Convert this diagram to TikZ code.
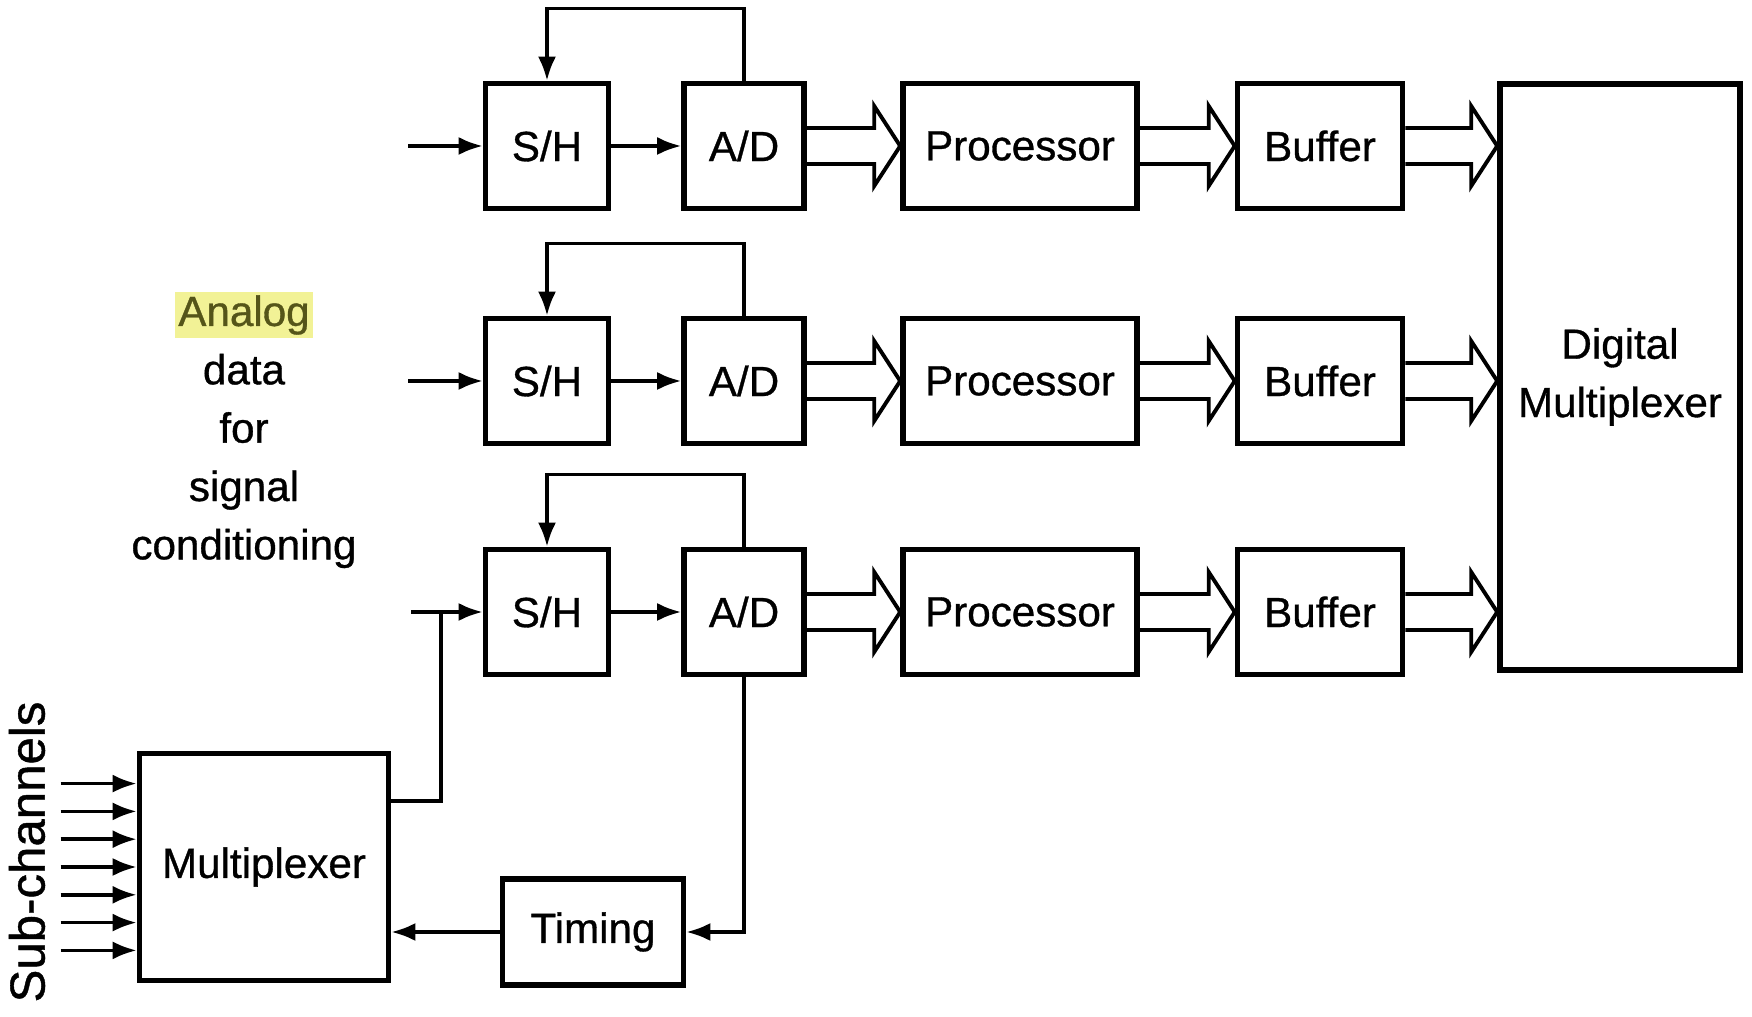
\documentclass[tikz,border=0pt]{standalone}
\usepackage{fontspec}
\setmainfont{Liberation Sans}[FakeBold=0.8]
\usetikzlibrary{arrows.meta,calc}
\definecolor{hlbg}{RGB}{242,242,150}
\definecolor{hltx}{RGB}{85,85,25}

\begin{document}
\begin{tikzpicture}[font=\fontsize{12}{16.6}\selectfont,
  blk/.style={draw,line width=1.6pt,minimum height=1.25cm,inner sep=2pt},
  arr/.style={line width=1pt,-{Latex[length=2.4mm,width=1.8mm]}},
  ln/.style={line width=1pt},
  bus/.style={line width=1.1pt,line join=miter}]
  \useasboundingbox (0,0) rectangle (17.52,-10.17);
  \node[blk,minimum width=1.23cm] (sh1) at (5.47,-1.46){S/H};
  \node[blk,minimum width=1.20cm] (ad1) at (7.44,-1.46){A/D};
  \node[blk,minimum width=2.34cm] (pr1) at (10.20,-1.46){Processor};
  \node[blk,minimum width=1.65cm] (bf1) at (13.20,-1.46){Buffer};
  \node[blk,minimum width=1.23cm] (sh2) at (5.47,-3.81){S/H};
  \node[blk,minimum width=1.20cm] (ad2) at (7.44,-3.81){A/D};
  \node[blk,minimum width=2.34cm] (pr2) at (10.20,-3.81){Processor};
  \node[blk,minimum width=1.65cm] (bf2) at (13.20,-3.81){Buffer};
  \node[blk,minimum width=1.23cm] (sh3) at (5.47,-6.12){S/H};
  \node[blk,minimum width=1.20cm] (ad3) at (7.44,-6.12){A/D};
  \node[blk,minimum width=2.34cm] (pr3) at (10.20,-6.12){Processor};
  \node[blk,minimum width=1.65cm] (bf3) at (13.20,-6.12){Buffer};
  \node[blk,minimum width=2.40cm,minimum height=5.86cm,align=center] (dm) at (16.20,-3.77){Digital\\Multiplexer};
  \node[blk,minimum width=2.49cm,minimum height=2.27cm] (mx) at (2.64,-8.67){Multiplexer};
  \node[blk,minimum width=1.81cm,minimum height=1.06cm] (tm) at (5.93,-9.32){Timing};
  \node[align=center] (an) at (2.44,-4.30){{\setlength{\fboxsep}{1pt}\colorbox{hlbg}{\textcolor{hltx}{Analog}}}\\data\\for\\signal\\conditioning};
  \node[rotate=90,font=\fontsize{14}{16}\selectfont] (sc) at (0.27,-8.52){Sub-channels};
  \coordinate (i1) at (4.08,-1.46);
  \coordinate (i2) at (4.08,-3.81);
  \coordinate (i3) at (4.11,-6.12);
  \coordinate (j3) at (4.41,-6.12);
  \draw[arr] (i1) -- (sh1);
  \draw[arr] (i2) -- (sh2);
  \draw[arr] (i3) -- (sh3);
  \draw[ln] ($(mx.east)+(0,0.66)$) -| (j3);
  \draw[arr] (sh1) -- (ad1);
  \draw[arr] (sh2) -- (ad2);
  \draw[arr] (sh3) -- (ad3);
  \draw[arr] (ad1.north) -- ++(0,0.72) -| (sh1.north);
  \draw[arr] (ad2.north) -- ++(0,0.72) -| (sh2.north);
  \draw[arr] (ad3.north) -- ++(0,0.72) -| (sh3.north);
  \foreach \a/\b in {ad1/pr1,pr1/bf1,bf1/dm,ad2/pr2,pr2/bf2,bf2/dm,ad3/pr3,pr3/bf3,bf3/dm}
    \draw[bus] ($(\a.east)+(0,0.18)$) -- ($(\b.west |- \a.east)+(-0.26,0.18)$) -- ++(0,0.22)
      -- (\b.west |- \a.east) -- ++(-0.26,-0.4) -- ++(0,0.22) -- ($(\a.east)+(0,-0.18)$);
  \draw[arr] (ad3.south) |- (tm.east);
  \draw[arr] (tm.west) -- (tm.west -| mx.east);
  \foreach \k in {-3,...,3}
    \draw[arr] ($(mx.west)+(-0.76,\k*0.278)$) -- ($(mx.west)+(0,\k*0.278)$);
\end{tikzpicture}
\end{document}
